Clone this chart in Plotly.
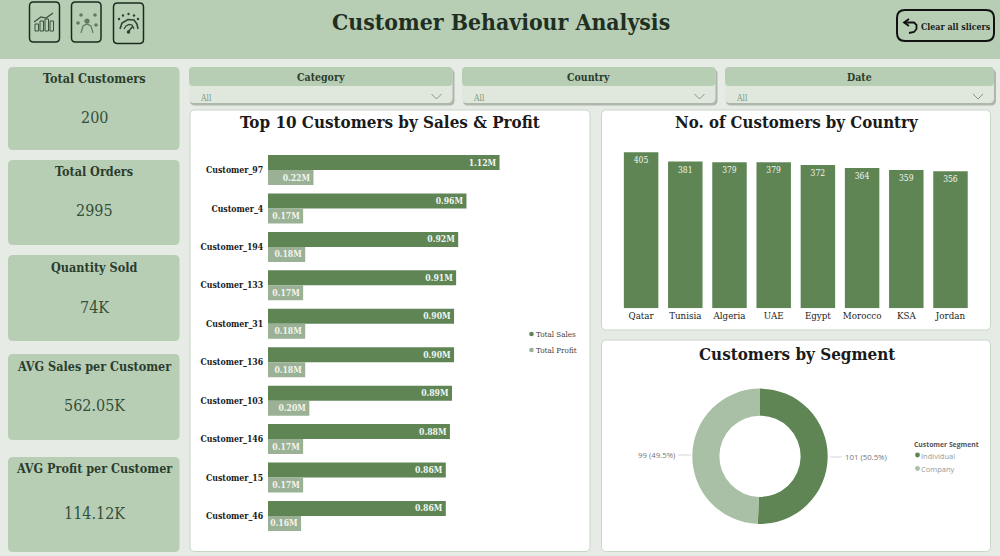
import plotly.graph_objects as go

# ---- data ----
customers = ["Customer_97", "Customer_4", "Customer_194", "Customer_133", "Customer_31",
             "Customer_136", "Customer_103", "Customer_146", "Customer_15", "Customer_46"]
total_sales = [1.12, 0.96, 0.92, 0.91, 0.90, 0.90, 0.89, 0.88, 0.86, 0.86]
total_profit = [0.22, 0.17, 0.18, 0.17, 0.18, 0.18, 0.20, 0.17, 0.17, 0.16]

countries = ["Qatar", "Tunisia", "Algeria", "UAE", "Egypt", "Morocco", "KSA", "Jordan"]
country_counts = [405, 381, 379, 379, 372, 364, 359, 356]

segments = ["Individual", "Company"]
segment_counts = [101, 99]

kpi_names = ["Total Customers", "Total Orders", "Quantity Sold",
             "AVG Sales per Customer", "AVG Profit per Customer"]
kpi_values = ["200", "2995", "74K", "562.05K", "114.12K"]
slicer_names = ["Category", "Country", "Date"]

# ---- palette and fonts ----
SERIF = "DejaVu Serif Condensed, DejaVu Serif, serif"
SANS = "Open Sans, sans-serif"
BG = "#E6ECE5"
HEADER = "#B7CEB5"
DARK_GREEN = "#5F8554"
LIGHT_GREEN = "#9AB195"
INK = "#1F2F22"
W, H = 1000, 556


def px(x):
    return x / W


def py(y):
    return 1 - y / H


def pt(x, y):
    return f"{px(x):.5f},{py(y):.5f}"


def rounded(x0, y0, x1, y1, r):
    return (f"M{pt(x0 + r, y0)} L{pt(x1 - r, y0)} Q{pt(x1, y0)} {pt(x1, y0 + r)} "
            f"L{pt(x1, y1 - r)} Q{pt(x1, y1)} {pt(x1 - r, y1)} L{pt(x0 + r, y1)} "
            f"Q{pt(x0, y1)} {pt(x0, y1 - r)} L{pt(x0, y0 + r)} Q{pt(x0, y0)} {pt(x0 + r, y0)} Z")


shapes = []
annotations = []


def box(x0, y0, x1, y1, r=5, fill=None, line=None, lw=1):
    shapes.append(dict(type="path", path=rounded(x0, y0, x1, y1, r), xref="paper", yref="paper",
                       fillcolor=fill or "rgba(0,0,0,0)", layer="below",
                       line=dict(color=line or "rgba(0,0,0,0)", width=lw if line else 0)))


def poly(points, color=INK, lw=1.2, fill=None, closed=False):
    d = "M" + " L".join(pt(x, y) for x, y in points) + (" Z" if closed else "")
    shapes.append(dict(type="path", path=d, xref="paper", yref="paper", layer="above",
                       fillcolor=fill or "rgba(0,0,0,0)", line=dict(color=color, width=lw)))


def dot(x, y, r, color):
    shapes.append(dict(type="circle", xref="paper", yref="paper", layer="above",
                       x0=px(x - r), x1=px(x + r), y0=py(y + r), y1=py(y - r),
                       fillcolor=color, line=dict(width=0)))


def label(x, y, text, size, color=INK, bold=False, anchor="center", family=SERIF):
    # left-anchored annotations carry a little internal padding
    nudge = 2.5 if anchor == "left" else 0
    annotations.append(dict(xref="paper", yref="paper", x=px(x - nudge), y=py(y),
                            text=f"<b>{text}</b>" if bold else text,
                            showarrow=False, xanchor=anchor, yanchor="middle",
                            font=dict(family=family, size=size, color=color)))


# ---- header band ----
shapes.append(dict(type="rect", xref="paper", yref="paper", x0=0, x1=1, y0=py(59), y1=1,
                   fillcolor=HEADER, line=dict(width=0), layer="below"))
label(501.5, 22.5, "Customer Behaviour Analysis", 22.8, bold=True)

# navigation icons
for x0, y0, x1, y1 in [(29.5, 2, 59.5, 42), (71.5, 2, 101, 42), (113.5, 3, 143.5, 43.5)]:
    box(x0, y0, x1, y1, r=4, line="#1D2B1F", lw=1.5)

# bars-and-trend icon
for bx, top in [(35, 24), (40, 21), (45, 19), (50, 21)]:
    poly([(bx, 31), (bx, top), (bx + 3.5, top), (bx + 3.5, 31)], color="#39503C", lw=1, closed=True)
poly([(34, 22), (41, 17), (46, 18), (53, 13)], color="#39503C", lw=1.2)

# people-and-ideas icon
dot(87, 21, 2.6, "#5F7A60")
poly([(81, 33), (83, 26), (87, 24), (91, 26), (93, 33)], color="#5F7A60", lw=1.2)
for cx, cy in [(81, 15), (95, 15), (78, 23), (96, 25)]:
    dot(cx, cy, 1.8, "#5F7A60")

# gauge icon
poly([(120, 29), (122, 23), (128, 19.5), (134, 20), (137, 24), (138, 29)], color="#2E4431", lw=1.6)
poly([(124, 29), (126, 26), (129, 24.5), (132, 25), (134, 29)], color="#2E4431", lw=1.2)
poly([(128, 32), (133, 26)], color="#2E4431", lw=1.4)
dot(128.5, 32, 1.8, "#2E4431")
for cx, cy in [(119, 19), (123, 15.5), (128.5, 14), (134, 15.5), (138, 19)]:
    dot(cx, cy, 1.2, "#2E4431")

# clear-slicers button
box(897, 10, 994, 41, r=8, line="#111111", lw=2)
poly([(909, 19), (904, 22.5), (909, 26)], color="#111111", lw=1.8)
poly([(904, 22.5), (914, 22.5), (916.5, 25), (916.5, 29), (914, 32), (909, 33)], color="#111111", lw=1.8)
label(921.5, 27, "Clear all slicers", 8.8, color="#1A1A1A", bold=True, anchor="left")

# ---- KPI cards ----
card_spans = [(67, 150), (160, 245), (255, 341), (354, 440), (457, 552)]
title_rows = [78, 171.5, 267, 366, 468.5]
value_rows = [117, 210.5, 307, 405.5, 513]
for name, value, (y0, y1), ty, vy in zip(kpi_names, kpi_values, card_spans, title_rows, value_rows):
    box(8, y0, 179.5, y1, r=5, fill=HEADER)
    label(94, ty, name, 12.5, color="#2B3D2E", bold=True)
    label(94, vy, value, 16, color="#34503A")

# ---- slicers ----
slicer_spans = [(189, 452.5), (462, 715.5), (725, 994)]
for name, (x0, x1) in zip(slicer_names, slicer_spans):
    box(x0 + 1, 69, x1 + 2, 105.5, r=5, fill="#AEB7AC")
    box(x0, 67, x1, 103, r=5, fill="#E0E8DE")
    box(x0, 67, x1, 86, r=4, fill=HEADER)
    label((x0 + x1) / 2, 76.5, name, 10.5, color="#2B3D2E", bold=True)
    label(x0 + 11, 98, "All", 8.5, color="#7E9A80", anchor="left")
    poly([(x1 - 21, 94), (x1 - 16, 99), (x1 - 11, 94)], color="#7E9A80", lw=1)

# ---- white chart panels ----
box(190, 110, 590, 551.5, r=5, fill="#FFFFFF", line="#C9D6C7")
box(601.5, 110, 990.5, 330, r=5, fill="#FFFFFF", line="#C9D6C7")
box(601.5, 340, 990.5, 551.5, r=5, fill="#FFFFFF", line="#C9D6C7")
label(390, 122.5, "Top 10 Customers by Sales &amp; Profit", 16.9, color="#1A1A1A", bold=True)
label(796.5, 122.5, "No. of Customers by Country", 16.7, color="#1A1A1A", bold=True)
label(796.5, 354, "Customers by Segment", 16.9, color="#1A1A1A", bold=True)

# ---- legends ----
dot(531.5, 334, 2.3, DARK_GREEN)
dot(531.5, 350, 2.3, LIGHT_GREEN)
label(536.5, 334, "Total Sales", 8, color="#444444", anchor="left")
label(536.5, 350, "Total Profit", 8, color="#444444", anchor="left")

label(914, 444, "Customer Segment", 6.8, color="#555555", bold=True, anchor="left", family=SANS)
dot(917.5, 455, 2.4, DARK_GREEN)
dot(917.5, 468.5, 2.4, "#A9C0A6")
label(921, 455.5, segments[0], 7.5, color="#999999", anchor="left", family=SANS)
label(921, 469, segments[1], 7.5, color="#999999", anchor="left", family=SANS)

# ---- donut callouts ----
share_total = sum(segment_counts)
label(866, 457, f"{segment_counts[0]} ({segment_counts[0] / share_total:.1%})", 7.8, color="#777777", family=SANS)
label(656, 454.5, f"{segment_counts[1]} ({segment_counts[1] / share_total:.1%})", 7.8, color="#777777", family=SANS)
poly([(830, 457), (842, 457)], color="#D6D6D6", lw=1)
poly([(678, 455), (691, 455)], color="#D6D6D6", lw=1)

# ---- traces ----
fig = go.Figure()
bar_label = dict(family=SERIF, size=8.6, color="#F2F5EF")
fig.add_trace(go.Bar(y=customers, x=total_sales, name="Total Sales", orientation="h", xaxis="x", yaxis="y",
                     marker=dict(color=DARK_GREEN, line=dict(width=0)),
                     texttemplate="<b>%{x:.2f}M</b>", textposition="inside", insidetextanchor="end",
                     textangle=0, constraintext="none", textfont=bar_label))
fig.add_trace(go.Bar(y=customers, x=total_profit, name="Total Profit", orientation="h", xaxis="x", yaxis="y",
                     marker=dict(color=LIGHT_GREEN, line=dict(width=0)),
                     texttemplate="<b>%{x:.2f}M</b>", textposition="inside", insidetextanchor="end",
                     textangle=0, constraintext="none", textfont=bar_label))
fig.add_trace(go.Bar(x=countries, y=country_counts, xaxis="x2", yaxis="y2",
                     marker=dict(color=DARK_GREEN, line=dict(width=0)),
                     text=country_counts, textposition="inside", insidetextanchor="end",
                     textangle=0, constraintext="none",
                     textfont=dict(family=SERIF, size=8.5, color="#F2F5EF")))
fig.add_trace(go.Pie(labels=segments, values=segment_counts, hole=0.6, sort=False, direction="clockwise",
                     rotation=0, textinfo="none", showlegend=False,
                     marker=dict(colors=[DARK_GREEN, "#A9C0A6"], line=dict(width=0)),
                     domain=dict(x=[px(692.3), px(827.7)], y=[py(524), py(388.6)])))

fig.update_layout(
    width=W, height=H, autosize=False,
    margin=dict(l=0, r=0, t=0, b=0),
    paper_bgcolor=BG, plot_bgcolor="rgba(0,0,0,0)",
    showlegend=False, barmode="group", bargap=0.22, bargroupgap=0,
    xaxis=dict(domain=[px(268), px(526)], range=[0, 1.248], visible=False, fixedrange=True),
    yaxis=dict(domain=[py(535.2), py(150.8)], anchor="x", autorange="reversed", showgrid=False,
               showline=False, zeroline=False, ticks="outside", ticklen=2, tickcolor="rgba(0,0,0,0)",
               tickfont=dict(family=SERIF, size=8.7, color="#1A1A1A"), tickprefix="<b>", ticksuffix="</b>"),
    xaxis2=dict(domain=[px(619), px(972.6)], anchor="y2", showgrid=False, showline=False, zeroline=False,
                ticks="", tickfont=dict(family=SERIF, size=9.7, color="#1A1A1A")),
    yaxis2=dict(domain=[py(308.3), py(150)], anchor="x2", range=[0, 411], visible=False),
    shapes=shapes, annotations=annotations,
)

fig.write_html("out.html")
